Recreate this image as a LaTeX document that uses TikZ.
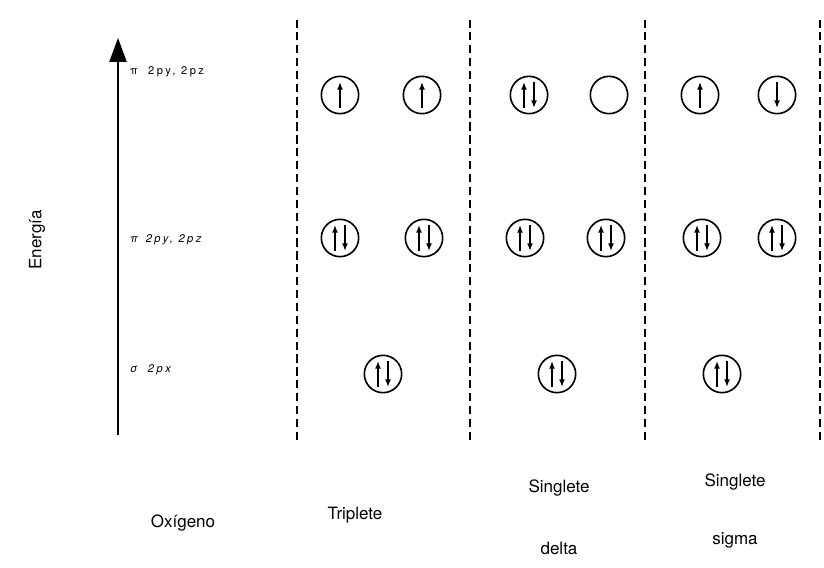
\documentclass[tikz,border=0pt]{standalone}
\usepackage{fontspec}
\setmainfont{TeX Gyre Heros}
\usepackage{tikz}
\usetikzlibrary{arrows.meta}

% spins inside an orbital
\newcommand{\spinup}[2][0]{\draw[spin] ([shift={(#1,-13)}]#2.center) -- ([shift={(#1,13)}]#2.center);}
\newcommand{\spindown}[2][0]{\draw[spin] ([shift={(#1,13)}]#2.center) -- ([shift={(#1,-13)}]#2.center);}
\newcommand{\spinpair}[1]{\spinup[-5]{#1}\spindown[5]{#1}}

\begin{document}
\begin{tikzpicture}[x=0.03cm,y=0.03cm,
  orbital/.style={circle,draw,line width=1.4pt,minimum size=1.12cm,inner sep=0pt},
  spin/.style={line width=1.1pt,-{Latex[length=6.5pt,width=5pt]}},
  sep/.style={line width=0.9pt,dash pattern=on 7pt off 4pt},
  level/.style={anchor=west,font=\fontsize{9.5}{11}\selectfont\addfontfeatures{LetterSpace=22}},
  levelit/.style={level,font=\fontsize{9.5}{11}\selectfont\itshape\addfontfeatures{LetterSpace=22}},
  title/.style={font=\fontsize{14.5}{17}\selectfont}]
\useasboundingbox (0,0) rectangle (824,567);

% energy axis
\coordinate (axb) at (118,132);
\coordinate (axt) at (118,529);
\draw[line width=0.9pt,-{Triangle[length=0.72cm,width=0.52cm]}] (axb) -- (axt);
\node[title,rotate=90] (ener) at (37,327) {Energía};

% levels
\node[level] (l1) at (126,495) {π\hspace{9pt}2py, 2pz};
\node[levelit] (l2) at (126,327) {π\hspace{7pt}2py, 2pz};
\node[levelit] (l3) at (126,197) {σ\hspace{9pt}2px};

% separators
\foreach \x in {297,470,645,820}
  \draw[sep] (\x,127) -- (\x,547);

% triplete
\node[orbital] (T1a) at (340,472) {};
\node[orbital] (T1b) at (422,472) {};
\node[orbital] (T2a) at (340,329) {};
\node[orbital] (T2b) at (424,329) {};
\node[orbital] (T3) at (383,193) {};
\spinup{T1a}
\spinup{T1b}
\spinpair{T2a}
\spinpair{T2b}
\spinpair{T3}

% singlete delta
\node[orbital] (D1a) at (529,472) {};
\node[orbital] (D1b) at (609,472) {};
\node[orbital] (D2a) at (525,329) {};
\node[orbital] (D2b) at (606,329) {};
\node[orbital] (D3) at (557,193) {};
\spinpair{D1a}
\spinpair{D2a}
\spinpair{D2b}
\spinpair{D3}

% singlete sigma
\node[orbital] (S1a) at (700,472) {};
\node[orbital] (S1b) at (777,472) {};
\node[orbital] (S2a) at (702,329) {};
\node[orbital] (S2b) at (777,329) {};
\node[orbital] (S3) at (722,193) {};
\spinup{S1a}
\spindown{S1b}
\spinpair{S2a}
\spinpair{S2b}
\spinpair{S3}

% names
\node[title] (oxi) at (183,44) {Oxígeno};
\node[title] (tri) at (355,52) {Triplete};
\node[title] (sd1) at (559,79) {Singlete};
\node[title] (sd2) at (559,19) {delta};
\node[title] (ss1) at (735,85) {Singlete};
\node[title] (ss2) at (735,27) {sigma};
\end{tikzpicture}
\end{document}
